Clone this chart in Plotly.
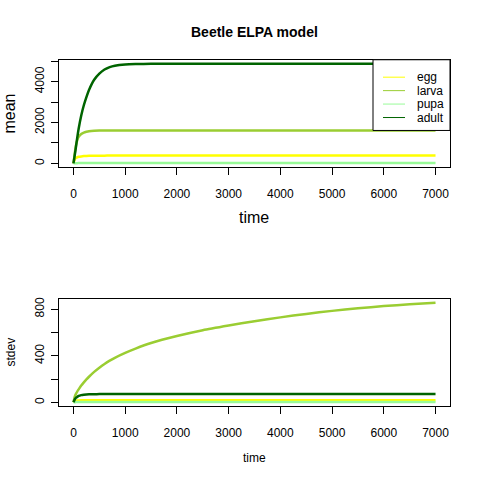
import plotly.graph_objects as go
from plotly.subplots import make_subplots

# time points
time = [0, 25, 50, 75, 100, 150, 200, 250, 300, 400, 500, 600, 700, 800,
        1000, 1200, 1500, 2000, 2500, 3000, 3500, 4000, 4500, 5000, 5500,
        6000, 6500, 7000]

# mean of each stage
egg_mean = [0, 200, 270, 300, 320, 340, 355, 362, 368, 374, 377, 378, 379, 380,
            380, 380, 380, 380, 380, 380, 380, 380, 380, 380, 380, 380, 380, 380]
larva_mean = [0, 500, 900, 1150, 1300, 1440, 1510, 1545, 1570, 1595, 1605, 1610, 1612, 1614,
              1615, 1615, 1615, 1615, 1615, 1615, 1615, 1615, 1615, 1615, 1615, 1615, 1615, 1615]
pupa_mean = [0, 5, 8, 10, 12, 14, 15, 15, 15, 15, 15, 15, 15, 15,
             15, 15, 15, 15, 15, 15, 15, 15, 15, 15, 15, 15, 15, 15]
adult_mean = [0, 400, 850, 1300, 1700, 2350, 2850, 3250, 3600, 4100, 4400, 4600, 4720, 4790,
              4850, 4870, 4880, 4885, 4885, 4885, 4885, 4885, 4885, 4885, 4885, 4885, 4885, 4885]

# standard deviation of each stage
egg_sd = [0, 10, 14, 15, 16, 17, 18, 18, 18, 18, 18, 18, 18, 18,
          18, 18, 18, 18, 18, 18, 18, 18, 18, 18, 18, 18, 18, 18]
larva_sd = [0, 50, 75, 95, 112, 145, 172, 197, 220, 262, 298, 330, 358, 383,
            425, 462, 510, 570, 620, 660, 697, 730, 760, 786, 808, 827, 842, 856]
pupa_sd = [0, 1, 2, 2, 3, 3, 3, 3, 3, 3, 3, 3, 3, 3,
           3, 3, 3, 3, 3, 3, 3, 3, 3, 3, 3, 3, 3, 3]
adult_sd = [0, 25, 40, 48, 55, 62, 66, 68, 69, 70, 71, 71, 71, 71,
            71, 71, 71, 71, 71, 71, 71, 71, 71, 71, 71, 71, 71, 71]

stages = ['egg', 'larva', 'pupa', 'adult']
colors = ['#FFFF00', '#9ACD32', '#98FB98', '#006400']
means = [egg_mean, larva_mean, pupa_mean, adult_mean]
sds = [egg_sd, larva_sd, pupa_sd, adult_sd]

W = 480
FONT = 'Liberation Sans, Arial, sans-serif'


def px(x):
    return x / W


def py(y):
    return 1 - y / W


fig = make_subplots(rows=2, cols=1)

for name, col, m, s in zip(stages, colors, means, sds):
    fig.add_trace(go.Scatter(x=time, y=m, mode='lines', line=dict(color=col, width=2.5, shape='spline', smoothing=0.6),
                             showlegend=False), row=1, col=1)
    fig.add_trace(go.Scatter(x=time, y=s, mode='lines', line=dict(color=col, width=2.5, shape='spline', smoothing=0.6),
                             showlegend=False), row=2, col=1)

axis_style = dict(showline=True, linecolor='black', linewidth=1, mirror=True,
                  ticks='outside', ticklen=7, tickcolor='black', showgrid=False,
                  zeroline=False, tickfont=dict(size=12, color='black'))

xdom = [px(59), px(450)]
fig.update_xaxes(domain=xdom, range=[-280, 7280], tickvals=list(range(0, 7001, 1000)),
                 ticklabelstandoff=8, **axis_style)
fig.update_yaxes(tickangle=-90, ticklabelstandoff=2, **axis_style)
fig.update_yaxes(domain=[py(166), py(58)], range=[-195, 5080],
                 tickvals=[0, 1000, 2000, 3000, 4000, 5000],
                 ticktext=['0', '', '2000', '', '4000', ''], row=1, col=1)
fig.update_yaxes(domain=[py(406), py(298)], range=[-34, 890],
                 tickvals=[0, 200, 400, 600, 800],
                 ticktext=['0', '', '400', '', '800'], row=2, col=1)

annotations = [
    dict(text='<b>Beetle ELPA model</b>', x=px(254), y=py(30), font=dict(size=14)),
    dict(text='mean', x=px(10), y=py(112), textangle=-90, font=dict(size=16)),
    dict(text='time', x=px(254), y=py(216), font=dict(size=16)),
    dict(text='stdev', x=px(11), y=py(352), textangle=-90, font=dict(size=12)),
    dict(text='time', x=px(254), y=py(458), font=dict(size=12)),
]

# legend box drawn by hand (R style)
shapes = [dict(type='rect', xref='paper', yref='paper', x0=px(373), x1=px(450),
               y0=py(129), y1=py(58), fillcolor='white', line=dict(color='black', width=1),
               layer='above')]
for i, (name, col) in enumerate(zip(stages, colors)):
    yy = py(75.5 + 13.5 * i)
    shapes.append(dict(type='line', xref='paper', yref='paper', x0=px(383), x1=px(405),
                       y0=yy, y1=yy, line=dict(color=col, width=1), layer='above'))
    annotations.append(dict(text=name, x=px(415), y=yy, xanchor='left', font=dict(size=12)))

for a in annotations:
    a.setdefault('xanchor', 'center')
    a.update(xref='paper', yref='paper', showarrow=False, yanchor='middle')

fig.update_layout(
    width=480, height=480,
    margin=dict(l=0, r=0, t=0, b=0),
    paper_bgcolor='white', plot_bgcolor='white',
    font=dict(family=FONT, color='black', size=12),
    annotations=annotations,
    shapes=shapes,
    showlegend=False,
)

# drop the browser's default page margin so the figure sits at the top-left corner
fig.write_html('out.html', config={'displayModeBar': False},
               post_script="document.body.style.margin = '0';")
